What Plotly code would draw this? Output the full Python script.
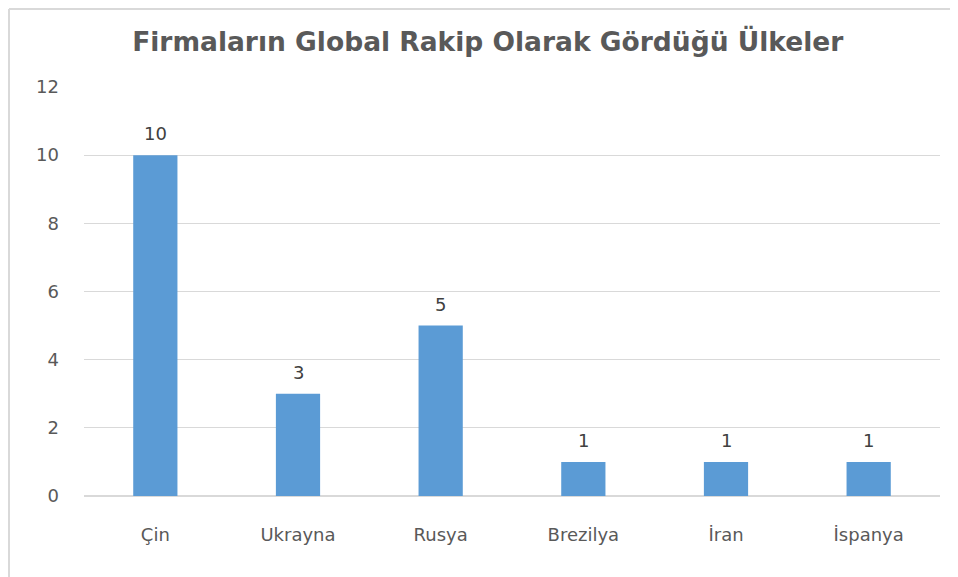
import plotly.graph_objects as go

categories = ["Çin", "Ukrayna", "Rusya", "Brezilya", "İran", "İspanya"]
values = [10, 3, 5, 1, 1, 1]
y_ticks = [0, 2, 4, 6, 8, 10, 12]

FONT = "DejaVu Sans"

fig = go.Figure(go.Bar(
    x=categories, y=values, width=0.31,
    marker=dict(color="#5B9BD5", line=dict(width=0)),
))

for c, v in zip(categories, values):
    fig.add_annotation(x=c, y=v, text=str(v), showarrow=False, yanchor="bottom",
                       yshift=9, font=dict(family=FONT, size=18, color="#404040"))

fig.update_layout(
    width=950, height=569,
    margin=dict(l=76, r=18, t=79, b=81),
    paper_bgcolor="white", plot_bgcolor="white",
    showlegend=False,
    title=dict(text="<b>Firmaların Global Rakip Olarak Gördüğü Ülkeler</b>",
               x=0.505, xanchor="center", y=0.94, yanchor="middle",
               font=dict(family=FONT, size=26.5, color="#595959")),
    font=dict(family=FONT, color="#595959"),
)
fig.update_yaxes(range=[0, 12], tickvals=y_ticks, showgrid=True, gridcolor="#D9D9D9",
                 gridwidth=1, zeroline=True, zerolinecolor="#D9D9D9", showline=False,
                 tickfont=dict(size=18, color="#595959"), ticklabelstandoff=24)
fig.update_xaxes(showgrid=False, showline=False, tickfont=dict(size=18, color="#595959"),
                 ticklabelstandoff=26)

fig.add_shape(type="line", xref="paper", yref="paper",
              x0=(9-84)/856, x1=(9-84)/856, y0=(496-577)/409, y1=(496-9)/409,
              line=dict(color="#D9D9D9", width=2))
fig.add_shape(type="line", xref="paper", yref="paper",
              x0=(9-84)/856, x1=(958-84)/856, y0=(496-9)/409, y1=(496-9)/409,
              line=dict(color="#D9D9D9", width=2))

fig.write_html("out.html")
